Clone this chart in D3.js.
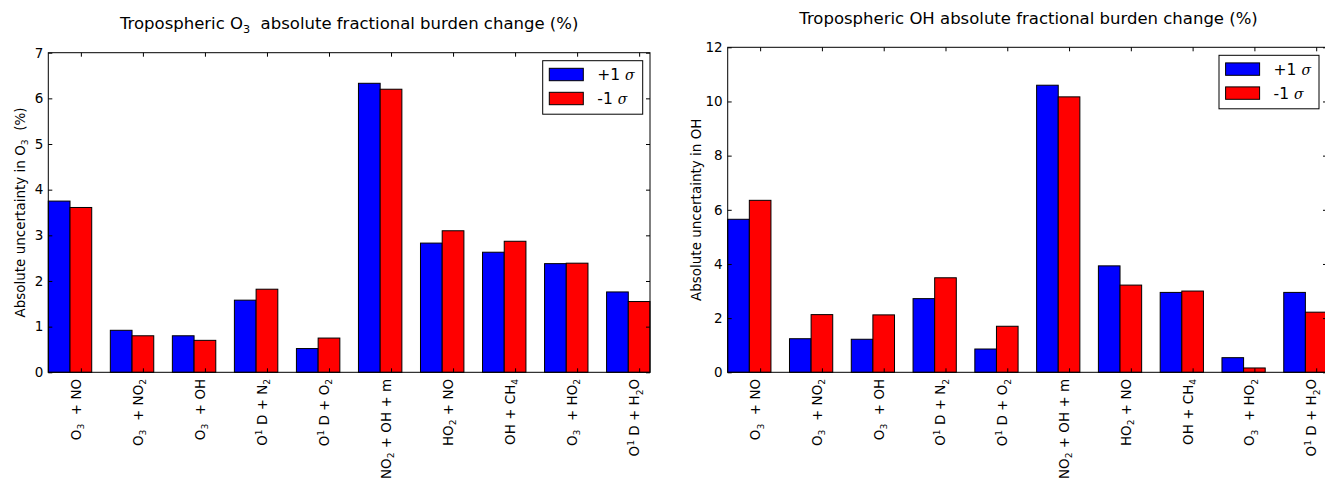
<!DOCTYPE html>
<html>
<head>
<meta charset="utf-8">
<script src="https://cdn.jsdelivr.net/npm/d3@7"></script>
<style>
  body { margin: 0; background: #fff; }
  svg text { font-family: "DejaVu Sans", sans-serif; white-space: pre; fill: #000; }
</style>
</head>
<body>
<script>
// reactions (use _x for subscript, ^x for superscript)
const reactions = [
  "O_3  + NO", "O_3  + NO_2", "O_3  + OH", "O^1 D + N_2", "O^1 D + O_2",
  "NO_2 + OH + m", "HO_2 + NO", "OH + CH_4", "O_3  + HO_2", "O^1 D + H_2O"
];

// ozone burden change, +1 / -1 sigma
const o3Plus  = [3.75, 0.92, 0.80, 1.58, 0.52, 6.33, 2.83, 2.63, 2.38, 1.76];
const o3Minus = [3.61, 0.80, 0.70, 1.82, 0.75, 6.20, 3.10, 2.87, 2.39, 1.55];

// OH burden change, +1 / -1 sigma
const ohPlus  = [5.65, 1.24, 1.22, 2.72, 0.86, 10.60, 3.93, 2.95, 0.54, 2.95];
const ohMinus = [6.35, 2.13, 2.12, 3.49, 1.70, 10.17, 3.22, 3.00, 0.16, 2.22];

const o3Ticks = [0, 1, 2, 3, 4, 5, 6, 7];
const ohTicks = [0, 2, 4, 6, 8, 10, 12];

const seriesNames = ["+1 ", "-1 "];
const seriesColors = ["#0000ff", "#ff0000"];

const W = 1325, H = 481;
const barW = 0.35;

const svg = d3.select("body").append("svg")
  .attr("width", W)
  .attr("height", H);

function addRich(sel, str, fs) {
  let parts = str.split(/([_^].)/).filter(s => s.length);
  let shift = 0;
  parts.forEach(p => {
    let target = 0, size = fs, txt = p;
    if (p[0] === "_") { target = fs * 0.25; size = fs * 0.68; txt = p[1]; }
    else if (p[0] === "^") { target = -fs * 0.4; size = fs * 0.68; txt = p[1]; }
    sel.append("tspan").attr("font-size", size).attr("dy", target - shift).text(txt);
    shift = target;
  });
}

function drawPanel(cfg) {
  let x0 = cfg.left, x1 = cfg.right;
  let xs = d3.scaleLinear().domain([0, 9.7]).range([x0, x1]);
  let ys = d3.scaleLinear().domain([0, cfg.ymax]).range([cfg.bottom, cfg.top]);

  let g = svg.append("g");

  // bars
  [cfg.plus, cfg.minus].forEach((vals, s) => {
    g.selectAll(null)
      .data(vals)
      .enter().append("rect")
      .attr("x", (d, i) => xs(i + s * barW))
      .attr("width", xs(barW) - xs(0))
      .attr("y", d => ys(d))
      .attr("height", d => ys(0) - ys(d))
      .attr("fill", seriesColors[s])
      .attr("stroke", "#000")
      .attr("stroke-width", 1);
  });

  let tickPos = reactions.map((r, i) => i + 1.5 * barW);

  // ticks on all four sides, pointing inwards
  let yl = g.append("g").attr("transform", `translate(${x0},0)`)
    .call(d3.axisLeft(ys).tickValues(cfg.ticks).tickFormat(d3.format("d"))
      .tickSizeInner(-4).tickSizeOuter(0).tickPadding(5));
  yl.selectAll("text").attr("font-size", 13.5).attr("font-family", null);
  g.append("g").attr("transform", `translate(${x1},0)`)
    .call(d3.axisRight(ys).tickValues(cfg.ticks).tickSizeInner(-4).tickSizeOuter(0).tickFormat(""));
  g.append("g").attr("transform", `translate(0,${cfg.bottom})`)
    .call(d3.axisBottom(xs).tickValues(tickPos).tickSizeInner(-4).tickSizeOuter(0).tickFormat(""));
  g.append("g").attr("transform", `translate(0,${cfg.top})`)
    .call(d3.axisTop(xs).tickValues(tickPos).tickSizeInner(-4).tickSizeOuter(0).tickFormat(""));
  g.selectAll(".domain").remove();
  g.selectAll(".tick line").attr("stroke", "#000");

  // frame
  g.append("rect")
    .attr("x", x0).attr("y", cfg.top)
    .attr("width", x1 - x0).attr("height", cfg.bottom - cfg.top)
    .attr("fill", "none").attr("stroke", "#000").attr("stroke-width", 1);

  // rotated category labels
  reactions.forEach((r, i) => {
    let tx = xs(tickPos[i]), ty = cfg.bottom + 6.5;
    let t = g.append("text")
      .attr("x", tx).attr("y", ty)
      .attr("dy", 5)
      .attr("text-anchor", "end")
      .attr("font-size", 13.5)
      .attr("transform", `rotate(-90,${tx},${ty})`);
    addRich(t, r, 13.5);
  });

  // y label
  let lx = cfg.ylabelX, ly = (cfg.top + cfg.bottom) / 2;
  let yt = g.append("text")
    .attr("x", lx).attr("y", ly)
    .attr("text-anchor", "middle")
    .attr("font-size", 13.5)
    .attr("transform", `rotate(-90,${lx},${ly})`);
  addRich(yt, cfg.ylabel, 13.5);

  // title
  let tt = g.append("text")
    .attr("x", (x0 + cfg.plotRight) / 2)
    .attr("y", cfg.top - 23.7)
    .attr("text-anchor", "middle")
    .attr("font-size", 16.5);
  addRich(tt, cfg.title, 16.5);

  // legend
  let lgW = 100, lgT = cfg.top + 8;
  let lg = g.append("g").attr("transform", `translate(${cfg.legendRight - lgW},${lgT})`);
  lg.append("rect")
    .attr("width", lgW).attr("height", 53.5)
    .attr("fill", "#fff").attr("stroke", "#000").attr("stroke-width", 1);
  seriesNames.forEach((name, s) => {
    lg.append("rect")
      .attr("x", 6.6).attr("y", 7.6 + s * 24)
      .attr("width", 34).attr("height", 12.4)
      .attr("fill", seriesColors[s]).attr("stroke", "#000").attr("stroke-width", 1);
    let lt = lg.append("text")
      .attr("x", 54.6).attr("y", 19.6 + s * 24)
      .attr("font-size", 15.5);
    lt.append("tspan").text(name);
    lt.append("tspan").attr("font-style", "italic").attr("font-family", "DejaVu Serif").attr("font-size", 14).text("σ");
  });
}

drawPanel({
  left: 48.3, right: 650, plotRight: 650, top: 52.7, bottom: 372.3,
  ymax: 7, ticks: o3Ticks, plus: o3Plus, minus: o3Minus,
  title: "Tropospheric O_3  absolute fractional burden change (%)",
  ylabel: "Absolute uncertainty in O_3  (%)", ylabelX: 25,
  legendRight: 642.7
});

drawPanel({
  left: 727.7, right: 1327, plotRight: 1329.4, top: 47.3, bottom: 372.3,
  ymax: 12, ticks: ohTicks, plus: ohPlus, minus: ohMinus,
  title: "Tropospheric OH absolute fractional burden change (%)",
  ylabel: "Absolute uncertainty in OH", ylabelX: 701,
  legendRight: 1319
});
</script>
</body>
</html>
